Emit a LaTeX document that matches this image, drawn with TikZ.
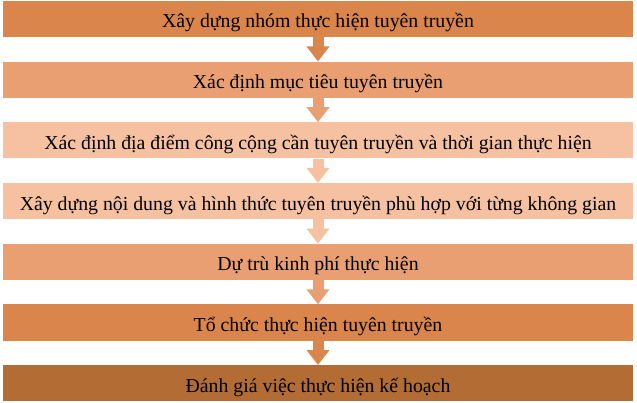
\documentclass[tikz,border=0pt]{standalone}
\usepackage{fontspec}
\setmainfont{Liberation Serif}
\usetikzlibrary{arrows.meta, positioning}

\definecolor{bardark}{HTML}{D9854B}
\definecolor{barmid}{HTML}{EA9F72}
\definecolor{barlight}{HTML}{F5C1A1}
\definecolor{barbrown}{HTML}{B36C33}

\begin{document}
\begin{tikzpicture}[x=1pt, y=1pt,
    bar style/.style={rectangle, minimum width=630pt, minimum height=36pt, inner sep=0pt,
        text height=18pt, text depth=0pt, font=\fontsize{19.8}{22}\selectfont},
    link style/.style={line width=11pt, -{Triangle[width=22pt, length=15pt]}}
]
        \useasboundingbox (0,0) rectangle (637,-403);

        \node[bar style, fill=bardark] (team) at (318,-19) {Xây dựng nhóm thực hiện tuyên truyền};
        \node[bar style, fill=barmid, below=24.3pt of team] (goal) {Xác định mục tiêu tuyên truyền};
        \node[bar style, fill=barlight, below=24.3pt of goal] (place) {Xác định địa điểm công cộng cần tuyên truyền và thời gian thực hiện};
        \node[bar style, fill=barlight, below=24.3pt of place] (content) {Xây dựng nội dung và hình thức tuyên truyền phù hợp với từng không gian};
        \node[bar style, fill=barmid, below=24.3pt of content] (budget) {Dự trù kinh phí thực hiện};
        \node[bar style, fill=bardark, below=24.3pt of budget] (run) {Tổ chức thực hiện tuyên truyền};
        \node[bar style, fill=barbrown, below=24.3pt of run] (review) {Đánh giá việc thực hiện kế hoạch};

        \draw[link style, bardark] (team) -- (goal);
        \draw[link style, barmid] (goal) -- (place);
        \draw[link style, barlight] (place) -- (content);
        \draw[link style, barlight] (content) -- (budget);
        \draw[link style, barmid] (budget) -- (run);
        \draw[link style, bardark] (run) -- (review);
    \end{tikzpicture}
\end{document}
